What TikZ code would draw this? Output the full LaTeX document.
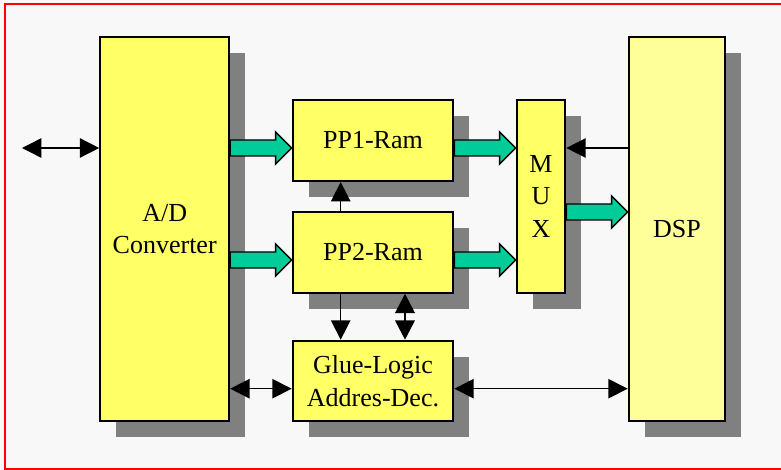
\documentclass[tikz,border=0pt]{standalone}
\usepackage{fontspec}
\setmainfont{Liberation Serif}
\usetikzlibrary{arrows.meta,calc,shadows}

\definecolor{boxyellow}{HTML}{FFFF66}
\definecolor{dspyellow}{HTML}{FFFF99}
\definecolor{busgreen}{HTML}{00CC99}
\definecolor{shadowgray}{HTML}{808080}
\definecolor{paper}{HTML}{F8F8F8}

% fat bus arrow from the point #1 to the point #2 (horizontal)
\newcommand{\busarrow}[2]{%
  \draw[busline] let \p1=(#1), \p2=(#2) in
    (\x1,\y1+6pt) -- (\x2-12pt,\y1+6pt) -- (\x2-12pt,\y1+12pt) -- (\x2,\y1)
    -- (\x2-12pt,\y1-12pt) -- (\x2-12pt,\y1-6pt) -- (\x1,\y1-6pt) -- cycle;}

\begin{document}
\begin{tikzpicture}[x=0.75pt, y=-0.75pt,
	font=\fontsize{19.5pt}{24.5pt}\selectfont,
	block/.style={draw=black, line width=1.5pt, fill=boxyellow, align=center,
		inner sep=0pt, drop shadow={shadow xshift=12pt, shadow yshift=-12pt,
		fill=shadowgray, opacity=1}},
	busline/.style={draw=black, line width=1.1pt, fill=busgreen},
	sglarrow/.style={draw=black, line width=1.1pt, -{Triangle[length=14.5pt, width=14.5pt]}},
	dblarrow/.style={draw=black, line width=1.1pt,
		{Triangle[length=14.5pt, width=14.5pt]}-{Triangle[length=14.5pt, width=14.5pt]}}]

		% paper and frame
		\useasboundingbox (0,0) rectangle (781,470);
		\fill[paper] (0,0) rectangle (781,470);
		\draw[red, line width=1.5pt] (5,4) rectangle (786,469);

		% blocks
		\node[block, minimum width=96.75pt, minimum height=288pt] (ad) at (164.7,228.9) {A/D\\Converter};
		\node[block, minimum width=120.5pt, minimum height=60.75pt] (pp1) at (373,140.5) {PP1-Ram};
		\node[block, minimum width=120.5pt, minimum height=60.75pt] (pp2) at (373,252.2) {PP2-Ram};
		\node[block, minimum width=120.5pt, minimum height=60.25pt] (glue) at (373,380.9) {Glue-Logic\\Addres-Dec.};
		\node[block, minimum width=36.5pt, minimum height=144.5pt] (mux) at (541,196.4) {M\\U\\X};
		\node[block, fill=dspyellow, minimum width=72.5pt, minimum height=288pt] (dsp) at (677,228.9) {DSP};

		% rows and columns of the connectors
		\coordinate (r1) at (0,148);
		\coordinate (r2) at (0,260);
		\coordinate (r3) at (0,212);
		\coordinate (r4) at (0,388.7);
		\coordinate (c1) at (340.7,0);
		\coordinate (c2) at (405,0);
		\coordinate (io) at (22,148);

		% data buses
		\busarrow{ad.east |- r1}{pp1.west |- r1}
		\busarrow{ad.east |- r2}{pp2.west |- r2}
		\busarrow{pp1.east |- r1}{mux.west |- r1}
		\busarrow{pp2.east |- r2}{mux.west |- r2}
		\busarrow{mux.east |- r3}{dsp.west |- r3}

		% control lines
		\draw[dblarrow] (io) -- (ad.west |- r1);
		\draw[sglarrow] (dsp.west |- r1) -- (mux.east |- r1);
		\draw[sglarrow] (pp2.north -| c1) -- (pp1.south -| c1);
		\draw[sglarrow] (pp2.south -| c1) -- (glue.north -| c1);
		\draw[dblarrow, line width=2pt] (pp2.south -| c2) -- (glue.north -| c2);
		\draw[dblarrow] (ad.east |- r4) -- (glue.west |- r4);
		\draw[dblarrow] (glue.east |- r4) -- (dsp.west |- r4);
	\end{tikzpicture}
\end{document}
